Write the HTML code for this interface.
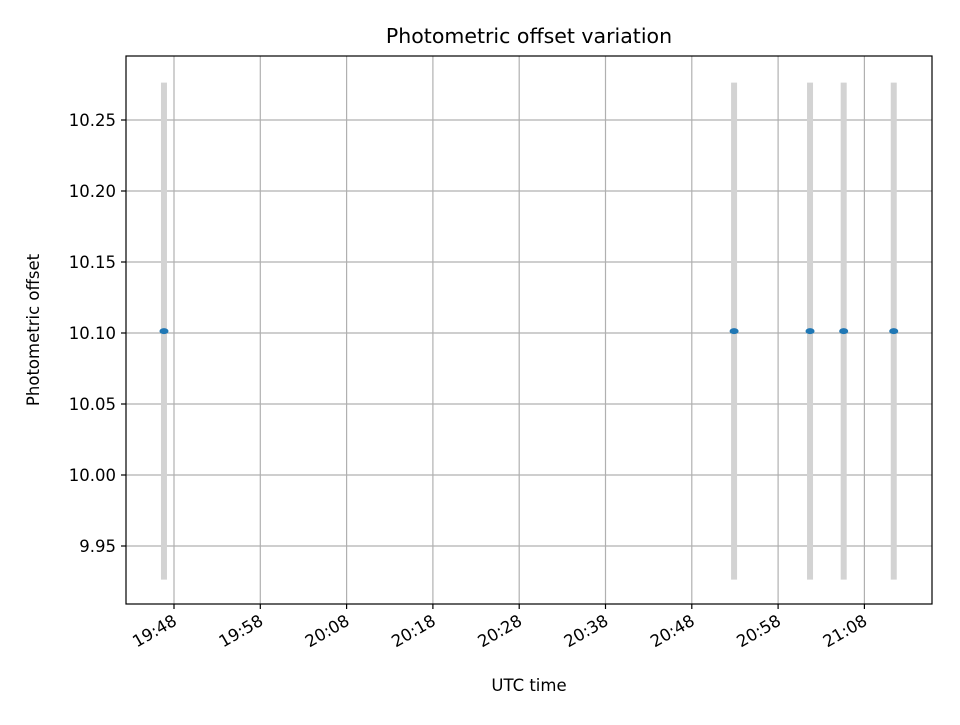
<!DOCTYPE html>
<html><head><meta charset="utf-8"><style>
body{margin:0;background:#fff;}
svg text{font-family:"DejaVu Sans","Liberation Sans",sans-serif;fill:#000;}
</style></head><body>
<svg width="960" height="720" viewBox="0 0 960 720">
<rect x="0" y="0" width="960" height="720" fill="#fff"/>
<g id="grid"></g>
<g id="bars"></g>
<g id="pts"></g>
<rect x="126" y="56" width="806" height="548" fill="none" stroke="#000" stroke-width="1.2"/>
<g id="axes"></g>
<text x="529" y="43" font-size="20.5" text-anchor="middle">Photometric offset variation</text>
<text x="529" y="691" font-size="16.5" text-anchor="middle">UTC time</text>
<text x="39" y="330" font-size="16.5" text-anchor="middle" transform="rotate(-90 39 330)">Photometric offset</text>
</svg>
<script>
const times=[-1.16,64.9,73.7,77.6,83.4]; // minutes after 19:48
const values=[10.1013,10.1013,10.1013,10.1013,10.1013];
const errors=[0.175,0.175,0.175,0.175,0.175];
const yTicks=[9.95,10.00,10.05,10.10,10.15,10.20,10.25];
const xTicks=[0,10,20,30,40,50,60,70,80];
const xTickLabels=["19:48","19:58","20:08","20:18","20:28","20:38","20:48","20:58","21:08"];
const NS="http://www.w3.org/2000/svg";
function X(m){return 174+m*8.63;}
function Y(v){return 475-(v-10)*1420;}
function mk(tag,attrs,parent){const e=document.createElementNS(NS,tag);for(const k in attrs)e.setAttribute(k,attrs[k]);document.getElementById(parent).appendChild(e);return e;}
yTicks.forEach((v,i)=>{
 const g=mk('line',{x1:126,x2:932,y1:Y(v),y2:Y(v),stroke:'#b0b0b0','stroke-width':1.2},'grid');
 
 
 const t=mk('line',{x1:121,x2:126,y1:Y(v),y2:Y(v),stroke:'#000','stroke-width':1.2},'axes');
 
 
 const l=mk('text',{x:116,y:Y(v)+6,'font-size':16.5,'text-anchor':'end'},'axes');
 l.textContent=v.toFixed(2);
 
 
});
xTicks.forEach((m,i)=>{
 const x=X(m);
 const g=mk('line',{x1:x,x2:x,y1:56,y2:604,stroke:'#b0b0b0','stroke-width':1.2},'grid');
 
 
 const t=mk('line',{x1:x,x2:x,y1:604,y2:609,stroke:'#000','stroke-width':1.2},'axes');
 
 
 const l=mk('text',{x:x+4,y:624,'font-size':16.5,'text-anchor':'end',transform:`rotate(-30 ${x+4} 624)`},'axes');
 l.textContent=xTickLabels[i];
 
 
});
times.forEach((m,i)=>{
 const x=X(m);
 const b=mk('line',{x1:x,x2:x,y1:Y(values[i]+errors[i]),y2:Y(values[i]-errors[i]),stroke:'#d3d3d3','stroke-width':6},'bars');
 
 
 const p=mk('ellipse',{cx:x,cy:Y(values[i]),rx:4.5,ry:3,fill:'#1f77b4'},'pts');
 
 
});
</script>
</body></html>
